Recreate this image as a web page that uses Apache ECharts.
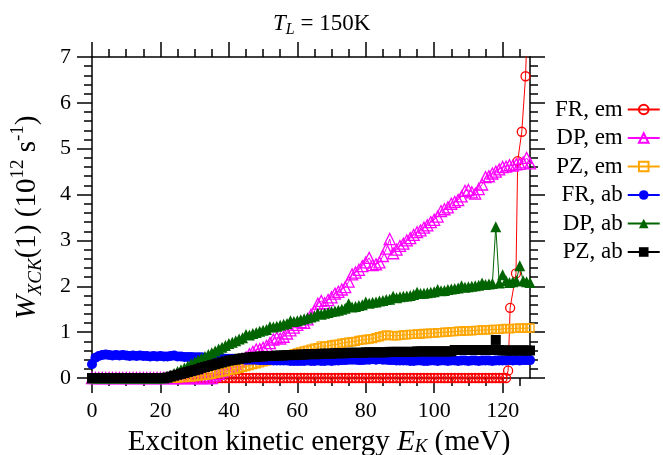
<!DOCTYPE html>
<html><head><meta charset="utf-8">
<script src="https://cdn.jsdelivr.net/npm/echarts@6/dist/echarts.min.js"></script>
<style>html,body{margin:0;padding:0;background:#fff}#c{width:663px;height:455px}</style>
</head><body><div id="c"></div>
<script>
const energy = [0,1,2,3,4,5,6,7,8,9,10,11,12,13,14,15,16,17,18,19,20,21,22,23,24,25,26,27,28,29,30,31,32,33,34,35,36,37,38,39,40,41,42,43,44,45,46,47,48,49,50,51,52,53,54,55,56,57,58,59,60,61,62,63,64,65,66,67,68,69,70,71,72,73,74,75,76,77,78,79,80,81,82,83,84,85,86,87,88,89,90,91,92,93,94,95,96,97,98,99,100,101,102,103,104,105,106,107,108,109,110,111,112,113,114,115,116,117,118,119,120,121,122,123,124,125,126,127,128];

// FR, em : flat part 0..120, then steep tail
const frEmBase = [0,0,0,0,0,0,0,0,0,0, 0,0,0,0,0,0,0,0,0,0, 0,0,0,0,0,0,0,0,0,0, 0,0,0,0,0,0,0,0,0,0,
  0,0,0,0,0,0,0,0,0,0, 0,0,0,0,0,0,0,0,0,0, 0,0,0,0,0,0,0,0,0,0, 0,0,0,0,0,0,0,0,0,0,
  0,0,0,0,0,0,0,0,0,0, 0,0,0,0,0,0,0,0,0,0, 0,0,0,0,0,0,0,0,0,0, 0,0,0,0,0,0,0,0,0,0, 0];
const frEmTailE = [121, 121.6, 122.2, 123.9, 124.4, 125.6, 126.7, 127.6];
const frEmTailV = [0, 0.16, 1.53, 2.28, 4.73, 5.37, 6.58, 8.6];

const dpEm = [0,0,0,0,0,0,0,0,0,0, 0,0,0,0,0,0,0,0,0,0, 0,0,0,0,0,0,0,0,0,0, 0,0,0,0,0,
  0.00,0.05,0.09,0.14,0.18,0.22,0.27,0.31,0.36,0.41,
  0.45,0.52,0.57,0.62,0.63,0.66,0.70,0.76,0.84,0.88,
  0.86,0.90,0.97,1.04,1.10,1.16,1.22,1.20,1.28,1.38,
  1.46,1.62,1.68,1.63,1.70,1.76,1.84,1.88,1.93,1.98,
  2.10,2.26,2.30,2.36,2.44,2.52,2.62,2.46,2.48,2.52,
  2.66,2.82,3.03,2.72,2.80,2.88,2.93,3.00,3.05,3.12,
  3.18,3.22,3.28,3.33,3.40,3.45,3.52,3.64,3.68,3.72,
  3.80,3.84,3.88,3.96,4.08,4.10,4.05,4.02,4.12,4.22,
  4.38,4.40,4.46,4.50,4.55,4.60,4.61,4.64,4.63,4.66,
  4.67,4.70,4.80,4.68];

const pzEm = [0,0,0,0,0,0,0,0,0,0, 0,0,0,0,0,0,0,0,0,0, 0,0,0,0,0,
  0.00,0.01,0.01,0.02,0.02,0.03,0.04,0.05,0.06,0.07,
  0.08,0.10,0.11,0.13,0.14,0.16,0.18,0.19,0.21,0.23,
  0.25,0.27,0.29,0.31,0.33,0.35,0.37,0.39,0.41,0.43,
  0.45,0.47,0.49,0.51,0.53,0.55,0.57,0.59,0.61,0.63,
  0.65,0.66,0.70,0.69,0.70,0.72,0.73,0.74,0.76,0.77,
  0.78,0.79,0.80,0.82,0.83,0.84,0.85,0.86,0.88,0.90,
  0.92,0.94,0.93,0.92,0.92,0.93,0.94,0.94,0.95,0.95,
  0.96,0.96,0.97,0.97,0.98,0.98,0.99,0.99,1.00,1.00,
  1.01,1.01,1.02,1.02,1.03,1.03,1.03,1.04,1.04,1.05,
  1.05,1.05,1.06,1.06,1.06,1.07,1.08,1.07,1.08,1.08,
  1.09,1.08,1.09,1.09];

const frAb = [0.30,0.44,0.48,0.50,0.51,0.50,0.49,0.50,0.49,0.50,
  0.49,0.48,0.49,0.48,0.49,0.48,0.48,0.47,0.48,0.47,
  0.48,0.47,0.47,0.48,0.49,0.47,0.47,0.46,0.46,0.46,
  0.45,0.45,0.45,0.44,0.44,0.44,0.43,0.43,0.43,0.42,
  0.42,0.42,0.41,0.41,0.41,0.40,0.40,0.40,0.40,0.39,
  0.39,0.39,0.39,0.38,0.38,0.38,0.38,0.38,0.37,0.37,
  0.37,0.37,0.37,0.38,0.37,0.37,0.38,0.37,0.37,0.38,
  0.37,0.38,0.38,0.39,0.39,0.40,0.40,0.40,0.39,0.39,
  0.40,0.40,0.41,0.40,0.41,0.40,0.40,0.39,0.39,0.38,
  0.38,0.38,0.38,0.37,0.37,0.38,0.38,0.37,0.37,0.38,
  0.38,0.37,0.38,0.38,0.37,0.38,0.38,0.37,0.38,0.38,
  0.37,0.38,0.38,0.37,0.38,0.38,0.38,0.37,0.38,0.38,
  0.38,0.38,0.39,0.38,0.39,0.38,0.39,0.39,0.39];

const dpAb = [0,0,0,0,0,0,0,0,0,0, 0,0,0,0,0,0,0,0,0,0, 0,0,
  0.02,0.06,0.10,0.14,0.18,0.22,0.26,0.31,0.35,0.39,
  0.43,0.47,0.51,0.55,0.59,0.63,0.67,0.71,0.75,0.78,
  0.81,0.85,0.88,0.95,0.94,0.97,0.99,1.02,1.04,1.06,
  1.12,1.11,1.13,1.15,1.17,1.19,1.25,1.23,1.25,1.27,
  1.29,1.31,1.33,1.35,1.41,1.39,1.41,1.43,1.45,1.46,
  1.48,1.50,1.52,1.62,1.55,1.56,1.58,1.60,1.66,1.63,
  1.65,1.66,1.68,1.69,1.71,1.72,1.78,1.75,1.77,1.78,
  1.79,1.80,1.82,1.87,1.84,1.85,1.86,1.87,1.88,1.93,
  1.90,1.91,1.93,1.94,1.95,1.96,2.01,1.98,1.99,2.00,
  2.01,2.02,2.07,2.04,2.05,2.06,3.30,2.07,2.25,2.12,
  2.08,2.10,2.12,2.45,2.12,2.10,2.08];

const pzAb = [0,0,0,0,0,0,0,0,0,0, 0,0,0,0,0,0,0,0,0,0, 0,0,
  0.01,0.03,0.05,0.07,0.09,0.11,0.13,0.15,0.17,0.19,
  0.22,0.24,0.26,0.28,0.30,0.32,0.34,0.36,0.38,0.39,
  0.40,0.42,0.43,0.44,0.45,0.46,0.46,0.47,0.47,0.48,
  0.48,0.48,0.49,0.49,0.49,0.50,0.50,0.50,0.51,0.51,
  0.51,0.52,0.52,0.52,0.52,0.53,0.53,0.53,0.53,0.54,
  0.54,0.54,0.54,0.55,0.55,0.55,0.55,0.55,0.56,0.56,
  0.56,0.56,0.56,0.56,0.56,0.57,0.57,0.57,0.57,0.57,
  0.57,0.57,0.57,0.58,0.58,0.58,0.58,0.58,0.58,0.58,
  0.58,0.58,0.58,0.58,0.61,0.61,0.61,0.61,0.61,0.61,
  0.61,0.61,0.61,0.61,0.61,0.61,0.83,0.61,0.60,0.60,
  0.60,0.60,0.60,0.60,0.60,0.60,0.60];

const xMajorTicks = [0,20,40,60,80,100,120];
const xMinorTicks = [5,10,15,25,30,35,45,50,55,65,70,75,85,90,95,105,110,115,125];
const yMajorTicks = [0,1,2,3,4,5,6,7];
const yMinorTicks = [0.2,0.4,0.6,0.8,1.2,1.4,1.6,1.8,2.2,2.4,2.6,2.8,3.2,3.4,3.6,3.8,4.2,4.4,4.6,4.8,5.2,5.4,5.6,5.8,6.2,6.4,6.6,6.8];

const seriesNames = ['FR, em','DP, em','PZ, em','FR, ab','DP, ab','PZ, ab'];

const FONT = 'Liberation Serif';
const pairs = arr => energy.slice(0, arr.length).map((e, i) => [e, arr[i]]);
const frEmData = pairs(frEmBase).concat(frEmTailE.map((e, i) => [e, frEmTailV[i]]));

function xAx(pos, ticks, len, showLine, showLabel) {
  return {
    type: 'value', position: pos, min: 0, max: 128,
    axisLine: { show: showLine, onZero: false, lineStyle: { color: '#000', width: 1.5 } },
    axisTick: { show: true, inside: false, length: len, customValues: ticks, lineStyle: { color: '#000', width: 1.5 } },
    axisLabel: showLabel ? { show: true, customValues: xMajorTicks, margin: 22, color: '#000', fontSize: 22, fontFamily: FONT } : { show: false },
    splitLine: { show: false }
  };
}
function yAx(pos, ticks, len, showLine, showLabel) {
  return {
    type: 'value', position: pos, min: 0, max: 7,
    axisLine: { show: showLine, onZero: false, lineStyle: { color: '#000', width: 1.5 } },
    axisTick: { show: true, inside: false, length: len, customValues: ticks, lineStyle: { color: '#000', width: 1.5 } },
    axisLabel: showLabel ? { show: true, customValues: yMajorTicks, margin: 21, color: '#000', fontSize: 22, fontFamily: FONT } : { show: false },
    splitLine: { show: false }
  };
}

const xAxes = [
  xAx('bottom', xMajorTicks, 15, true, true),
  xAx('bottom', xMinorTicks, 8, false, false),
  xAx('top', xMajorTicks, 15, true, false),
  xAx('top', xMinorTicks, 8, false, false)
];
xAxes[0].name = 'Exciton kinetic energy {i|E}{sub|K}{n| (meV)}';
xAxes[0].nameLocation = 'middle';
xAxes[0].nameGap = 45;
xAxes[0].nameTextStyle = {
  color: '#000', fontSize: 29, fontFamily: FONT, lineHeight: 30, padding: [0, 0, 0, 16],
  rich: {
    n: { fontSize: 29, fontFamily: FONT, color: '#000', lineHeight: 30 },
    i: { fontSize: 29, fontFamily: FONT, fontStyle: 'italic', color: '#000', lineHeight: 30 },
    sub: { fontSize: 19, fontFamily: FONT, fontStyle: 'italic', color: '#000', verticalAlign: 'bottom', lineHeight: 18 }
  }
};

const yAxes = [
  yAx('left', yMajorTicks, 15, true, true),
  yAx('left', yMinorTicks, 8, false, false),
  yAx('right', yMajorTicks, 15, true, false),
  yAx('right', yMinorTicks, 8, false, false)
];
yAxes[0].name = '{i|W}{sub|XCK}{n|(1) (10}{sup|12}{n| s}{sup|-1}{n|)}';
yAxes[0].nameLocation = 'middle';
yAxes[0].nameRotate = 90;
yAxes[0].nameGap = 47;
yAxes[0].nameTextStyle = {
  color: '#000', fontSize: 29, fontFamily: FONT,
  rich: {
    n: { fontSize: 29, fontFamily: FONT, color: '#000', lineHeight: 36 },
    i: { fontSize: 29, fontFamily: FONT, fontStyle: 'italic', color: '#000', lineHeight: 36 },
    sub: { fontSize: 19, fontFamily: FONT, fontStyle: 'italic', color: '#000', verticalAlign: 'bottom', lineHeight: 19 },
    sup: { fontSize: 19, fontFamily: FONT, color: '#000', verticalAlign: 'top', lineHeight: 19 }
  }
};

function ser(name, data, color, symbol, size, hollow, z) {
  return {
    name, type: 'line', data, xAxisIndex: 0, yAxisIndex: 0,
    symbol, symbolSize: size, showSymbol: true, z,
    lineStyle: { color, width: 1 },
    itemStyle: hollow ? { color: 'rgba(255,255,255,0)', borderColor: color, borderWidth: 1.3 } : { color, borderColor: color, borderWidth: 0 },
    emphasis: { disabled: true },
    clip: true
  };
}

const option = {
  animation: false,
  backgroundColor: '#fff',
  title: {
    text: '{i|T}{sub|L}{n| = 150K}',
    left: 268, top: 5,
    textStyle: {
      fontWeight: 'normal', fontSize: 23, fontFamily: FONT, color: '#000',
      rich: {
        n: { fontSize: 23, fontFamily: FONT, color: '#000', fontWeight: 'normal', lineHeight: 28 },
        i: { fontSize: 23, fontFamily: FONT, fontStyle: 'italic', fontWeight: 'normal', color: '#000', lineHeight: 28 },
        sub: { fontSize: 16, fontFamily: FONT, fontStyle: 'italic', fontWeight: 'normal', color: '#000', verticalAlign: 'bottom', lineHeight: 15 }
      }
    }
  },
  grid: { left: 92, right: 133, top: 57, bottom: 77, containLabel: false, outerBoundsMode: 'none' },
  legend: {
    orient: 'vertical', left: 550, top: 93, align: 'right',
    itemWidth: 32, itemHeight: 12, itemGap: 5.5,
    textStyle: { fontSize: 23, fontFamily: FONT, color: '#000', lineHeight: 22 },
    data: seriesNames
  },
  xAxis: xAxes,
  yAxis: yAxes,
  series: [
    ser(seriesNames[0], frEmData, '#ff0000', 'circle', 9, true, 2),
    ser(seriesNames[1], pairs(dpEm), '#ff00ff', 'triangle', 11, true, 3),
    ser(seriesNames[2], pairs(pzEm), '#ffa500', 'rect', 8, true, 4),
    ser(seriesNames[3], pairs(frAb), '#0000ff', 'circle', 10, false, 5),
    ser(seriesNames[4], pairs(dpAb), '#006400', 'triangle', 11, false, 6),
    ser(seriesNames[5], pairs(pzAb), '#000000', 'rect', 10, false, 7)
  ]
};
const chart = echarts.init(document.getElementById('c'), null, { renderer: 'canvas' });
chart.setOption(option);
</script>
</body></html>
